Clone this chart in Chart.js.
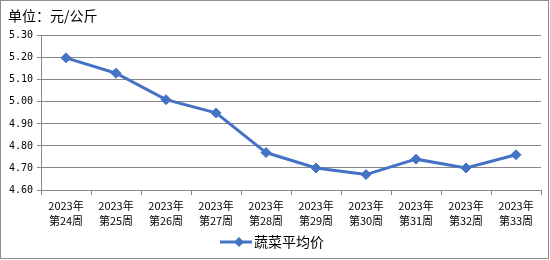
<!DOCTYPE html>
<html><head><meta charset="utf-8">
<script src="https://cdn.jsdelivr.net/npm/chart.js@4/dist/chart.umd.min.js"></script>
<style>html,body{margin:0;padding:0;background:#fff}#wrap{width:550px;height:260px;position:relative}</style>
</head><body><div id="wrap"><canvas id="c" width="550" height="260"></canvas></div>
<script>
const categories = [['2023年','第24周'],['2023年','第25周'],['2023年','第26周'],['2023年','第27周'],['2023年','第28周'],['2023年','第29周'],['2023年','第30周'],['2023年','第31周'],['2023年','第32周'],['2023年','第33周']];
const avgPrice = [5.20, 5.13, 5.01, 4.95, 4.77, 4.70, 4.67, 4.74, 4.70, 4.76];
const seriesName = '蔬菜平均价';
const titleText = '单位：元/公斤';
const yMin = 4.6, yMax = 5.3, yStep = 0.1;

const blue = '#4472C4';
const gray = '#888888';

// legend symbol: line with diamond
const sym = document.createElement('canvas');
sym.width = 32; sym.height = 12;
(function(){
  const g = sym.getContext('2d');
  g.strokeStyle = blue; g.lineWidth = 3;
  g.beginPath(); g.moveTo(0,6); g.lineTo(32,6); g.stroke();
  g.fillStyle = blue;
  g.beginPath(); g.moveTo(19,1); g.lineTo(24,6); g.lineTo(19,11); g.lineTo(14,6); g.closePath(); g.fill();
})();

const borderPlugin = {
  id: 'outerBorder',
  afterDraw(chart){
    const ctx = chart.ctx;
    ctx.save();
    ctx.strokeStyle = '#8c8c8c'; ctx.lineWidth = 1;
    ctx.strokeRect(0.5, 0.5, 548, 258);
    ctx.restore();
  }
};

new Chart(document.getElementById('c'), {
  type: 'line',
  data: {
    labels: categories,
    datasets: [{
      label: seriesName,
      data: avgPrice,
      borderColor: blue,
      backgroundColor: blue,
      borderWidth: 3,
      pointStyle: 'rectRot',
      pointRadius: 5,
      pointHoverRadius: 5,
      pointBackgroundColor: blue,
      pointBorderColor: blue,
      pointBorderWidth: 1,
      tension: 0
    }]
  },
  options: {
    responsive: false,
    animation: false,
    devicePixelRatio: 1,
    layout: { padding: { left: 8, right: 9, top: 0, bottom: 1 } },
    plugins: {
      tooltip: { enabled: false },
      title: {
        display: true, text: titleText, align: 'start', color: '#000',
        font: { family: 'Noto Sans CJK SC', size: 14, weight: 'normal', lineHeight: 1.2 },
        padding: { top: 7, bottom: 12 }
      },
      legend: {
        display: true, position: 'bottom',
        labels: {
          usePointStyle: true, pointStyle: sym, pointStyleWidth: 22,
          color: '#000', padding: 6,
          font: { family: 'Noto Sans CJK SC', size: 14 },
          generateLabels(chart){
            return [{ text: seriesName, pointStyle: sym, fillStyle: blue, strokeStyle: blue, lineWidth: 0, datasetIndex: 0, hidden: false }];
          }
        }
      }
    },
    scales: {
      x: {
        offset: true,
        grid: { display: true, offset: true, drawOnChartArea: false, drawTicks: true, tickLength: 5, color: gray },
        border: { display: true, color: gray, width: 1 },
        ticks: {
          color: '#000', padding: 3, maxRotation: 0, autoSkip: false,
          font: { family: 'Noto Sans CJK SC', size: 11, lineHeight: 1.36 }
        },
        afterFit(s){ s.height = 39; }
      },
      y: {
        min: yMin, max: yMax,
        grid: { color: gray, drawTicks: true, tickLength: 4 },
        border: { display: true, color: gray, width: 1 },
        ticks: {
          stepSize: yStep, color: '#000', padding: 4,
          font: { family: 'DejaVu Sans Mono', size: 10 },
          callback: v => Number(v).toFixed(2)
        },
        afterFit(s){ s.width = 33; }
      }
    }
  },
  plugins: [borderPlugin]
});
</script></body></html>
